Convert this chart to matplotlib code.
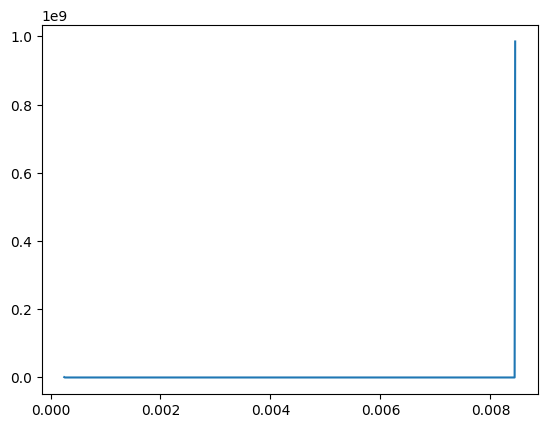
import matplotlib
matplotlib.use("Agg")
import matplotlib.pyplot as plt
from matplotlib.ticker import MultipleLocator

# values
x = [0.00025, 0.00026, 0.001, 0.002, 0.003, 0.004, 0.005, 0.006, 0.007, 0.008, 0.00844, 0.00845]
y = [1.0e6, 0.0, 0.0, 0.0, 0.0, 0.0, 0.0, 0.0, 0.0, 0.0, 0.0, 9.85e8]

plt.figure(figsize=(6.4, 4.8))
plt.plot(x, y)
plt.gca().xaxis.set_major_locator(MultipleLocator(0.002))
plt.savefig("out.png", dpi=100, bbox_inches="tight")
